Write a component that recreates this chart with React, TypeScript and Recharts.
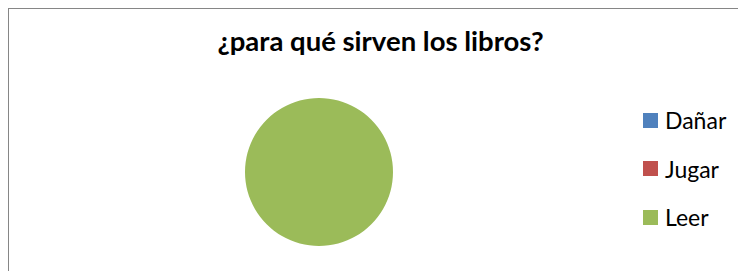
import { PieChart, Pie, Cell, Legend } from 'recharts';

const categories = ['Dañar', 'Jugar', 'Leer'];
const values = [0, 0, 100];
const colors = ['#4F81BD', '#C0504D', '#9BBB59'];
const title = '¿para qué sirven los libros?';

const data = categories.map((name, i) => ({ name, value: values[i] }));

function LegendBox({ payload }: { payload?: any[] }) {
  return (
    <div>
      {(payload ?? []).map((p: any) => (
        <div
          key={p.value}
          style={{ display: 'flex', alignItems: 'center', height: 48.5, fontFamily: 'Lato, sans-serif', fontSize: 23, color: '#000' }}
        >
          <span style={{ display: 'inline-block', width: 15, height: 15, background: p.color, marginRight: 7 }} />
          <span>{p.value}</span>
        </div>
      ))}
    </div>
  );
}

export default function App() {
  return (
    <div
      style={{
        position: 'relative',
        width: 760,
        height: 280,
        borderTop: '1px solid #868686',
        borderLeft: '1px solid #868686',
        background: '#fff',
      }}
    >
      <div
        style={{
          position: 'absolute',
          left: 0,
          top: 15,
          width: 743,
          textAlign: 'center',
          fontFamily: 'Lato, sans-serif',
          fontWeight: 700,
          fontSize: 27.5,
          color: '#000',
          zIndex: 2,
        }}
      >
        {title}
      </div>
      <PieChart width={740} height={270}>
        <Pie
          data={data}
          dataKey="value"
          nameKey="name"
          cx={305}
          cy={158}
          outerRadius={74}
          startAngle={90}
          endAngle={-270}
          stroke="none"
          isAnimationActive={false}
          legendType="square"
        >
          {data.map((d, i) => (
            <Cell key={d.name} fill={colors[i]} />
          ))}
        </Pie>
        <Legend
          layout="vertical"
          content={<LegendBox />}
          wrapperStyle={{ position: 'absolute', left: 634, top: 87, width: 100 }}
        />
      </PieChart>
    </div>
  );
}
